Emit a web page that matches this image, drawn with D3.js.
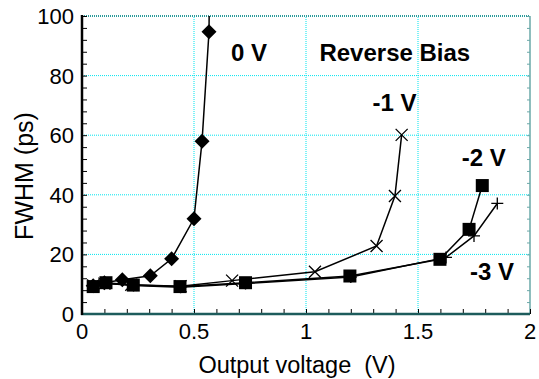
<!DOCTYPE html>
<html>
<head>
<meta charset="utf-8">
<script src="https://cdn.jsdelivr.net/npm/d3@7"></script>
<style>
  html, body { margin: 0; padding: 0; background: #fff; }
  svg { display: block; }
  text { font-family: Arial, "Liberation Sans", Helvetica, sans-serif; fill: #000; }
</style>
</head>
<body>
<svg id="chart" width="539" height="379"></svg>
<script>
// FWHM of output pulse vs. output voltage for several reverse-bias settings
const bias0V = [[0.05, 9.5], [0.10, 10.5], [0.18, 11.5], [0.305, 12.8], [0.40, 18.5], [0.50, 32], [0.536, 58], [0.567, 94.7], [0.570, 120]];
const bias1V = [[0.05, 9.6], [0.10, 10.2], [0.22, 9.8], [0.44, 9.3], [0.67, 11.2], [1.04, 14.2], [1.315, 22.8], [1.397, 39.6], [1.427, 60.1]];
const bias2V = [[0.05, 9.2], [0.107, 10.5], [0.229, 9.7], [0.4375, 9.2], [0.73, 10.5], [1.196, 12.75], [1.598, 18.35], [1.728, 28.4], [1.787, 43.1]];
const bias3V = [[0.05, 9.6], [0.10, 10.3], [0.23, 9.6], [0.44, 9.0], [0.73, 10.2], [1.20, 12.4], [1.625, 19.0], [1.75, 26.2], [1.854, 37.1]];

const xTicks = [0, 0.5, 1, 1.5, 2];
const xTickLabels = ["0", "0.5", "1", "1.5", "2"];
const yTicks = [0, 20, 40, 60, 80, 100];

const labels = [
  { text: "0 V", x: 0.665, y: 85 },
  { text: "Reverse Bias", x: 1.06, y: 84.8 },
  { text: "-1 V", x: 1.297, y: 68.2 },
  { text: "-2 V", x: 1.695, y: 49.6 },
  { text: "-3 V", x: 1.732, y: 11.4 }
];

const svg = d3.select("#chart");
const x = d3.scaleLinear().domain([0, 2]).range([82, 530]);
const y = d3.scaleLinear().domain([0, 100]).range([314, 16]);

svg.append("defs").append("clipPath").attr("id", "plotClip")
  .append("rect").attr("x", 82).attr("y", 16).attr("width", 448).attr("height", 298);

// grid
const grid = svg.append("g");
grid.selectAll("line.gx").data(xTicks.slice(1, -1)).join("line")
  .attr("x1", d => x(d)).attr("x2", d => x(d)).attr("y1", y(0)).attr("y2", y(100))
  .attr("stroke", "#00e5ee").attr("stroke-width", 1).attr("stroke-dasharray", "1,1");
grid.selectAll("line.gy").data(yTicks.slice(1, -1)).join("line")
  .attr("x1", x(0)).attr("x2", x(2)).attr("y1", d => y(d)).attr("y2", d => y(d))
  .attr("stroke", "#00e5ee").attr("stroke-width", 1).attr("stroke-dasharray", "1,1");

// frame: top and right
svg.append("line").attr("x1", x(0)).attr("x2", x(2)).attr("y1", y(100)).attr("y2", y(100))
  .attr("stroke", "#2a9a9a").attr("stroke-width", 2).attr("stroke-dasharray", "1,1");
svg.append("line").attr("x1", x(2)).attr("x2", x(2)).attr("y1", y(100)).attr("y2", y(0))
  .attr("stroke", "#6aa8a8").attr("stroke-width", 1.5);

// axes with inward minor ticks
const xAxis = d3.axisTop(x).tickValues(d3.range(0, 2.001, 0.1)).tickSize(5).tickFormat("");
const gx = svg.append("g").attr("transform", `translate(0,${y(0)})`).call(xAxis);
gx.select(".domain").remove();
gx.selectAll(".tick line").attr("stroke", "#000").attr("stroke-width", 1);

const yAxis = d3.axisRight(y).tickValues(d3.range(0, 100.001, 4)).tickSize(5).tickFormat("");
const gy = svg.append("g").attr("transform", `translate(${x(0)},0)`).call(yAxis);
gy.select(".domain").remove();
gy.selectAll(".tick line").attr("stroke", "#000").attr("stroke-width", 1);

const gyr = svg.append("g").attr("transform", `translate(${x(2)},0)`)
  .call(d3.axisLeft(y).tickValues(d3.range(0, 100.001, 4)).tickSize(3).tickFormat(""));
gyr.select(".domain").remove();
gyr.selectAll(".tick line").attr("stroke", "#6aa8a8");

svg.append("line").attr("x1", x(0) - 1).attr("x2", x(2)).attr("y1", y(0)).attr("y2", y(0))
  .attr("stroke", "#1d5c5c").attr("stroke-width", 2.5);
svg.append("line").attr("x1", x(0)).attr("x2", x(0)).attr("y1", y(100) - 1).attr("y2", y(0) + 1)
  .attr("stroke", "#000").attr("stroke-width", 2.5);

// tick labels
svg.selectAll("text.xl").data(xTicks).join("text")
  .attr("x", d => x(d)).attr("y", 339).attr("text-anchor", "middle")
  .style("font-size", "22px").text((d, i) => xTickLabels[i]);
svg.selectAll("text.yl").data(yTicks).join("text")
  .attr("x", 74).attr("y", d => y(d)).attr("dy", "0.36em").attr("text-anchor", "end")
  .style("font-size", "22px").text(d => d);

// axis titles
svg.append("text").attr("x", 297).attr("y", 373).attr("text-anchor", "middle")
  .style("font-size", "23.5px").text("Output voltage\u00a0\u00a0(V)");
svg.append("text").attr("transform", "translate(33,176) rotate(-90)").attr("text-anchor", "middle")
  .style("font-size", "25px").text("FWHM (ps)");

// series
const line = d3.line().x(d => x(d[0])).y(d => y(d[1]));
const plot = svg.append("g").attr("clip-path", "url(#plotClip)");
[bias3V, bias2V, bias1V, bias0V].forEach(s => {
  plot.append("path").datum(s).attr("d", line)
    .attr("fill", "none").attr("stroke", "#000").attr("stroke-width", 1.5);
});

const inView = d => d[1] <= 100;

// 0 V: diamonds
plot.selectAll("path.dia").data(bias0V.filter(inView)).join("path")
  .attr("transform", d => `translate(${x(d[0])},${y(d[1])})`)
  .attr("d", "M0,-7.5L7.5,0L0,7.5L-7.5,0Z").attr("fill", "#000");
// -1 V: crosses
plot.selectAll("path.crs").data(bias1V).join("path")
  .attr("transform", d => `translate(${x(d[0])},${y(d[1])})`)
  .attr("d", "M-6,-6L6,6M-6,6L6,-6").attr("stroke", "#000").attr("stroke-width", 1.3).attr("fill", "none");
// -3 V: plus signs
plot.selectAll("path.pls").data(bias3V).join("path")
  .attr("transform", d => `translate(${x(d[0])},${y(d[1])})`)
  .attr("d", "M-6,0L6,0M0,-6L0,6").attr("stroke", "#000").attr("stroke-width", 1.3).attr("fill", "none");
// -2 V: squares
plot.selectAll("rect.sq").data(bias2V).join("rect")
  .attr("x", d => x(d[0]) - 6.5).attr("y", d => y(d[1]) - 6.5)
  .attr("width", 13).attr("height", 13).attr("fill", "#000");

// annotations
svg.selectAll("text.ann").data(labels).join("text")
  .attr("x", d => x(d.x)).attr("y", d => y(d.y))
  .style("font-size", "24px").style("font-weight", "bold").text(d => d.text);
</script>
</body>
</html>
